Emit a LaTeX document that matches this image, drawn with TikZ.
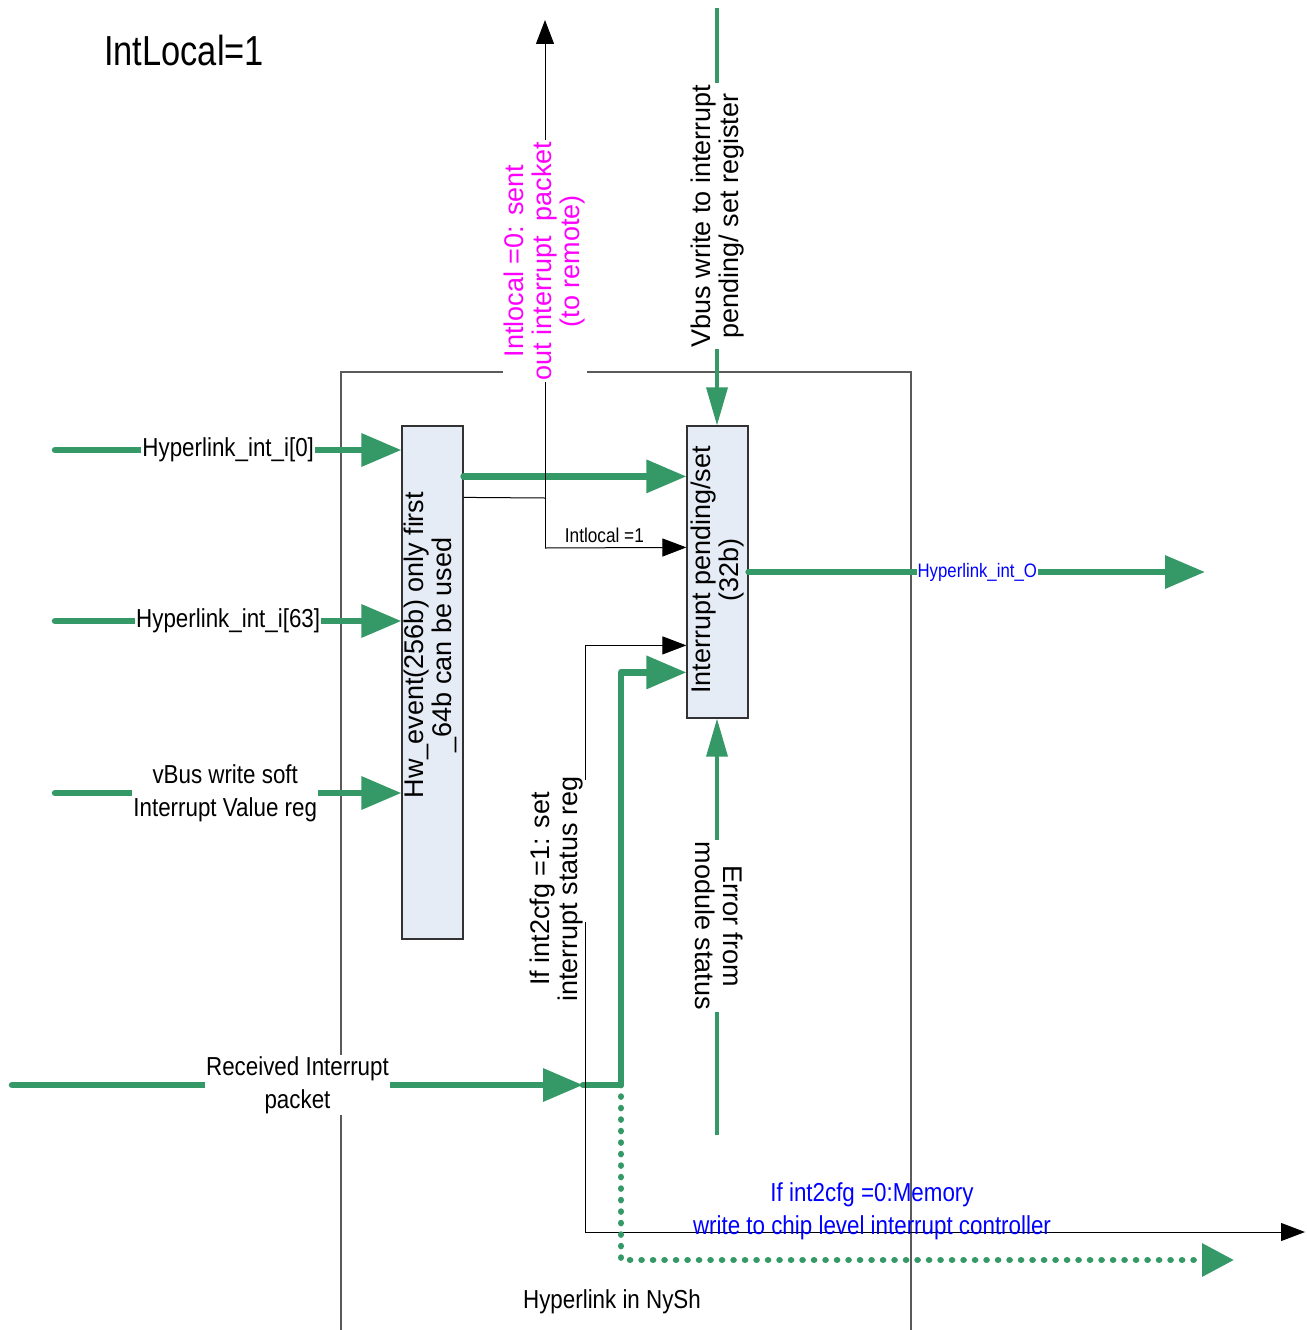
\documentclass[tikz,border=0pt]{standalone}
\usepackage{fontspec}
\setmainfont{Liberation Sans}
\newfontfamily\nf[FakeStretch=0.86]{Liberation Sans}
\newfontfamily\tf[FakeStretch=0.82]{Liberation Sans}
\usetikzlibrary{arrows.meta,calc}
\definecolor{gr}{RGB}{52,153,102}
\definecolor{boxfill}{RGB}{230,236,245}
\definecolor{mag}{RGB}{255,0,255}
\definecolor{blu}{RGB}{0,0,255}
\definecolor{outl}{RGB}{90,90,90}
\begin{document}
\begin{tikzpicture}[x=1pt,y=-1pt,
  garrow/.style={draw=gr,line width=6.5pt,line cap=round,line join=round,-{Triangle[length=40pt,width=32pt]}},
  garrowthin/.style={draw=gr,line width=3.5pt,-{Triangle[length=38pt,width=21pt]}},
  gdot/.style={draw=gr,line width=6.5pt,line cap=round,dash pattern=on 0.1pt off 11.4pt,-{Triangle[length=32pt,width=32pt]}},
  bline/.style={draw=black,line width=1pt},
  barrow/.style={draw=black,line width=1pt,-{Triangle[length=24pt,width=18pt]}},
  outer/.style={draw=outl,line width=1.2pt},
  blk/.style={draw={rgb,255:red,50;green,50;blue,50},line width=1.2pt,fill=boxfill,inner sep=0pt},
  lbl/.style={font=\nf\fontsize{26}{33}\selectfont,align=center,inner sep=1pt,fill=white},
  rot/.style={font=\fontsize{27}{28}\selectfont,align=center,inner sep=1.5pt}]
\useasboundingbox (0,0) rectangle (1306,1330);

% outer frame
\draw[outer] (341,1330) -- (341,372) -- (911,372) -- (911,1330);

% title
\node[font=\tf\fontsize{42}{48}\selectfont,inner sep=0pt] (title) at (184,50) {IntLocal=1};

% blocks
\node[blk,minimum width=61pt,minimum height=513pt] (hw) at (432.5,682.5) {};
\node[rot,rotate=90] (hwtxt) at (430,645) {Hw\_event(256b) only first\\\_64b can be used};
\node[blk,minimum width=61pt,minimum height=292pt] (ip) at (717.5,572) {};
\node[rot,rotate=90] (iptxt) at (718,570) {Interrupt pending/set\\(32b)};

% left inputs
\coordinate (in0) at (55,450);
\coordinate (in63) at (55,621);
\coordinate (invb) at (55,793);
\draw[garrow] (in0) -- node[lbl]{Hyperlink\_int\_i[0]} (in0 -| hw.west);
\draw[garrow] (in63) -- node[lbl]{Hyperlink\_int\_i[63]} (in63 -| hw.west);
\draw[garrow] (invb) -- node[lbl,xshift=-3pt]{vBus write soft\\Interrupt Value reg} (invb -| hw.west);

% hw -> ip
\draw[garrow] ($(hw.north east)+(0,51)$) -- ($(ip.north west)+(0,51)$);

% Intlocal branch
\coordinate (tjoin) at (545,498);
\coordinate (tlow) at (545,548);
\coordinate (topT) at (545,20);
\draw[bline] ($(hw.north east)+(0,72)$) -- (tjoin);
\draw[barrow] (tlow) -- (topT);
\draw[barrow] (tlow) -- node[pos=0.42,above=4pt,inner sep=1pt,font=\nf\fontsize{20}{24}\selectfont]{Intlocal =1} ($(ip.north west)+(0,122)$);
\node[rot,rotate=90,fill=white,text=mag] (mtxt) at (545,261) {Intlocal =0: sent\\out interrupt\ \ packet\\(to remote)};

% Vbus write
\coordinate (vtop) at (717,8);
\draw[garrowthin] (vtop) -- (vtop |- ip.north);
\node[rot,rotate=90,fill=white] (vtxt) at (717.5,216) {Vbus write to interrupt\\pending/ set register};

% Error from module
\coordinate (ebot) at (717,1135);
\draw[garrowthin] (ebot) -- (ebot |- ip.south);
\node[rot,rotate=-90,fill=white] (etxt) at (719.5,926) {Error from\\module status};

% output
\coordinate (hout) at (1205,572);
\draw[garrow] (ip.east) -- node[pos=0.501,fill=white,text=blu,inner sep=1pt,font=\nf\fontsize{19.5}{22}\selectfont]{Hyperlink\_int\_O} (hout);

% received interrupt packet
\coordinate (rx) at (12,1085);
\coordinate (j1) at (583,1085);
\coordinate (j2) at (621,1085);
\draw[garrow] (rx) -- node[lbl]{Received Interrupt\\packet} (j1);
\draw[garrow] (j1) -- (j2) |- ($(ip.north west)+(0,247)$);

% black path int2cfg=1
\coordinate (b1) at (585,1232);
\coordinate (bg1) at (585,922);
\coordinate (bg2) at (585,780);
\coordinate (bout) at (1305,1232);
\draw[bline] (b1) -- (bg1);
\draw[barrow] (bg2) |- ($(ip.north west)+(0,220)$);
\draw[barrow] (b1) -- (bout);
\node[rot,rotate=90] (ctxt) at (557,889) {If int2cfg =1: set\\interrupt status reg};

% dotted path int2cfg=0
\coordinate (dout) at (1234,1260);
\draw[gdot] (j2) |- (dout);

% texts
\node[font=\nf\fontsize{26}{33}\selectfont,text=blu,align=center,inner sep=0pt] (memtxt) at (872,1211) {If int2cfg =0:Memory\\write to chip level interrupt controller};
\node[font=\nf\fontsize{26}{33}\selectfont,inner sep=0pt] (nysh) at (612,1302) {Hyperlink in NySh};
\end{tikzpicture}
\end{document}
